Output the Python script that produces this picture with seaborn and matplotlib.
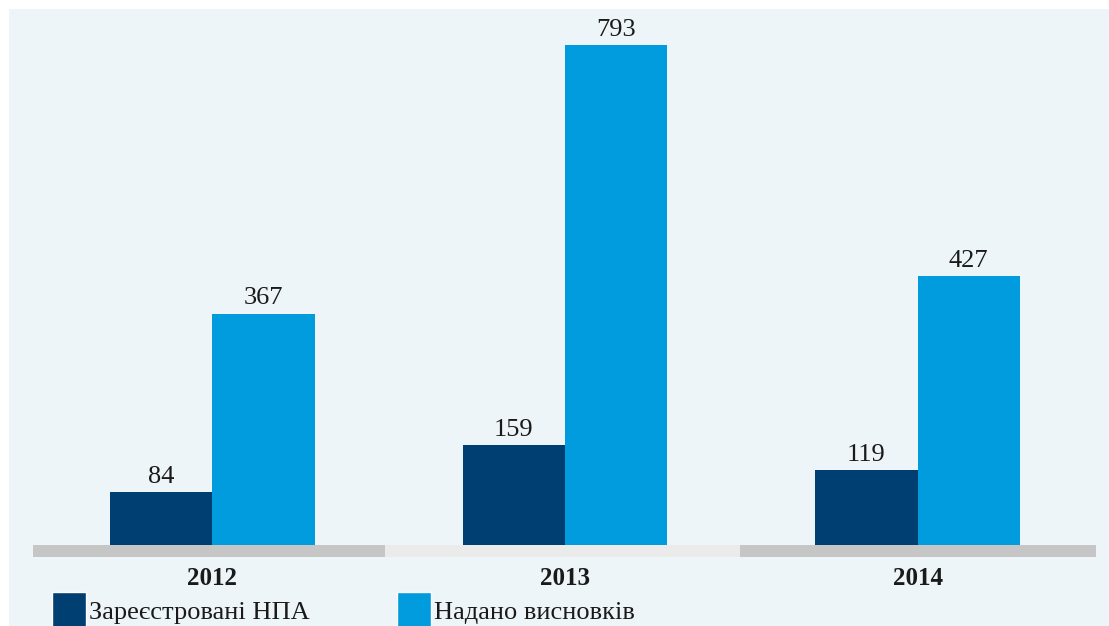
import matplotlib
matplotlib.use("Agg")
import matplotlib.pyplot as plt
import seaborn as sns
import pandas as pd
from matplotlib.patches import Rectangle

# дані
years = ['2012', '2013', '2014']
registered = [84, 159, 119]
conclusions = [367, 793, 427]
series_names = ['Зареєстровані НПА', 'Надано висновків']
colors = ['#003f72', '#009cdd']

df = pd.DataFrame({
    'year': years * 2,
    'value': registered + conclusions,
    'series': [series_names[0]] * 3 + [series_names[1]] * 3,
})

sns.set_style('white')
plt.rcParams['font.family'] = ['Liberation Serif', 'DejaVu Serif']

W, H = 1109, 626
fig = plt.figure(figsize=(W / 100, H / 100), dpi=100, facecolor='white')

# світло-блакитна панель
fig.patches.append(Rectangle((9 / W, 0), 1 - 9 / W, 1 - 9 / H, transform=fig.transFigure,
                             facecolor='#eef5f9', edgecolor='none', zorder=-5))

ax = fig.add_axes([36 / W, 1 - 545 / H, (1094 - 36) / W, (545 - 9) / H])
ax.set_zorder(2)
ax.set_facecolor('none')

sns.barplot(data=df, x='year', y='value', hue='series', palette=colors,
            width=0.58, gap=0, ax=ax, legend=False, saturation=1, linewidth=0)

ax.set_ylim(0, 850)
ax.set_xlim(-0.5, 2.5)
for c in ax.containers:
    ax.bar_label(c, padding=3, fontsize=19, color='#1a1a1a')

# сірі смуги під віссю
band_colors = ['#c6c6c6', '#ebebeb', '#c6c6c6']
band_edges = [33, 385, 740, 1096]
for i, bc in enumerate(band_colors):
    ax.add_patch(Rectangle((band_edges[i] / W, 1 - 557 / H), (band_edges[i + 1] - band_edges[i]) / W,
                           12 / H, transform=fig.transFigure,
                           facecolor=bc, edgecolor='none', clip_on=False))

sns.despine(ax=ax, left=True, bottom=True)
ax.set_yticks([])
ax.set_xlabel('')
ax.set_ylabel('')
ax.tick_params(axis='x', length=0, pad=16)
for lbl in ax.get_xticklabels():
    lbl.set_fontweight('bold')
    lbl.set_fontsize(18)
    lbl.set_color('#1a1a1a')

handles = [Rectangle((0, 0), 1, 1, facecolor=c) for c in colors]
fig.legend(handles, series_names, loc='lower left', bbox_to_anchor=(52 / W, -2 / H),
           ncol=2, frameon=False, fontsize=19, handlelength=1.3, handleheight=1.7,
           handletextpad=0.1, columnspacing=3.3, borderpad=0, borderaxespad=0,
           labelcolor='#1a1a1a')

fig.savefig('out.png', dpi=100, facecolor='white')
